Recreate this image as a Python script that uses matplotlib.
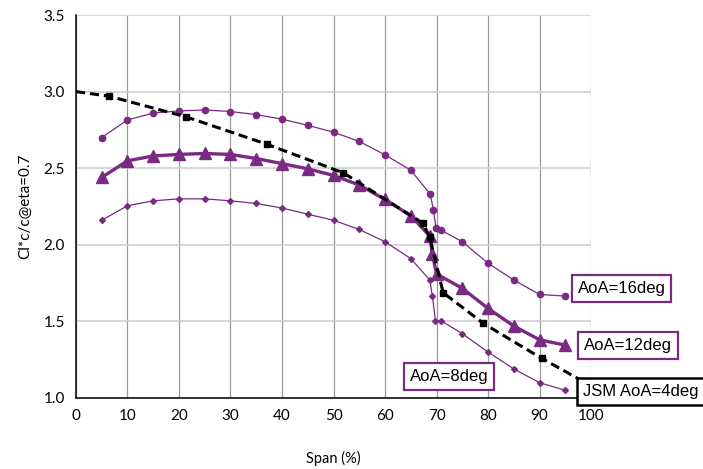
import matplotlib
matplotlib.use('Agg')
import matplotlib.pyplot as plt

purple = '#7a2a82'

# Spanwise positions (% span) and sectional loading for each case
span_16 = [5, 10, 15, 20, 25, 30, 35, 40, 45, 50, 55, 60, 65, 68.8, 69.4, 69.9, 70.9, 75, 80, 85, 90, 95]
cl_16 = [2.70, 2.815, 2.86, 2.874, 2.88, 2.87, 2.85, 2.82, 2.78, 2.735, 2.675, 2.587, 2.487, 2.33, 2.226, 2.11, 2.095, 2.02, 1.88, 1.77, 1.676, 1.665]

span_12 = [5, 10, 15, 20, 25, 30, 35, 40, 45, 50, 55, 60, 65, 68.7, 69.2, 70, 75, 80, 85, 90, 95]
cl_12 = [2.44, 2.548, 2.58, 2.59, 2.596, 2.59, 2.563, 2.53, 2.496, 2.453, 2.39, 2.296, 2.19, 2.057, 1.94, 1.81, 1.716, 1.585, 1.47, 1.38, 1.345]

span_8 = [5, 10, 15, 20, 25, 30, 35, 40, 45, 50, 55, 60, 65, 68.7, 69.2, 69.8, 70.9, 75, 80, 85, 90, 95]
cl_8 = [2.16, 2.255, 2.287, 2.30, 2.30, 2.287, 2.27, 2.24, 2.20, 2.16, 2.10, 2.02, 1.91, 1.77, 1.665, 1.504, 1.504, 1.42, 1.30, 1.19, 1.10, 1.05]

span_jsm = [0, 6.4, 21.4, 37, 51.9, 67.4, 68.7, 71.3, 79.1, 90.4, 100]
cl_jsm = [3.0, 2.97, 2.835, 2.657, 2.47, 2.14, 2.048, 1.687, 1.487, 1.259, 1.08]

fig = plt.figure(figsize=(7.03, 4.69), dpi=100)
ax = fig.add_axes([0.1081, 0.1514, 0.7326, 0.8166])

ax.plot(span_16, cl_16, color=purple, lw=0.9, marker='o', ms=4.5, zorder=3)
ax.plot(span_12, cl_12, color=purple, lw=2.4, marker='^', ms=8.5, zorder=3)
ax.plot(span_8, cl_8, color=purple, lw=0.9, marker='D', ms=3, zorder=3)
ax.plot(span_jsm, cl_jsm, color='black', lw=2.2, ls=(0, (3, 1.6)),
        marker='s', ms=4.5, markevery=list(range(1, 10)), zorder=4)

ax.set_xlim(0, 100)
ax.set_ylim(1.0, 3.5)
ax.set_xticks(range(0, 101, 10))
ax.set_yticks([1.0, 1.5, 2.0, 2.5, 3.0, 3.5])
ax.set_yticklabels(['1.0', '1.5', '2.0', '2.5', '3.0', '3.5'])

# Excel-like grid: darker verticals, lighter horizontals
ax.xaxis.grid(True, color='#9a9a9a', lw=0.9)
ax.yaxis.grid(True, color='#d0d0d0', lw=1.2)
ax.set_axisbelow(True)
for side in ['top', 'right']:
    ax.spines[side].set_visible(False)
ax.spines['left'].set_linewidth(1.1)
ax.spines['bottom'].set_linewidth(1.1)
ax.tick_params(length=0, labelsize=11, pad=8)
for lab in ax.get_xticklabels() + ax.get_yticklabels():
    lab.set_family('Lato')

ax.set_xlabel('Span (%)', family='Lato', fontsize=10.5, labelpad=20)
ax.set_ylabel('Cl*c/c@eta=0.7', family='Lato', fontsize=11, labelpad=8)

box_kw = dict(boxstyle='square,pad=0.35', fc='white', ec=purple, lw=1.6)
fig.text(0.884, 0.385, 'AoA=16deg', family='Liberation Sans', fontsize=12,
         ha='center', va='center', bbox=box_kw)
fig.text(0.893, 0.263, 'AoA=12deg', family='Liberation Sans', fontsize=12,
         ha='center', va='center', bbox=box_kw)
fig.text(0.639, 0.197, 'AoA=8deg', family='Liberation Sans', fontsize=12,
         ha='center', va='center', bbox=box_kw)
fig.text(0.829, 0.165, 'JSM AoA=4deg', family='Liberation Sans', fontsize=12,
         ha='left', va='center',
         bbox=dict(boxstyle='square,pad=0.35', fc='white', ec='black', lw=1.8))

fig.savefig('out.png', dpi=100)
